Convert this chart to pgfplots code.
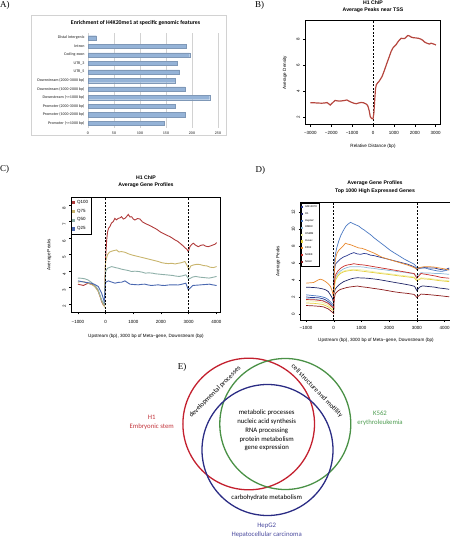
\documentclass[border=0pt]{standalone}
\usepackage{fontspec}
\setmainfont{Liberation Sans}
\newfontfamily\carl{Carlito}
\newfontfamily\lserif{Liberation Serif}
\usepackage{pgfplots}
\pgfplotsset{compat=1.18}
\definecolor{barblue}{HTML}{95B3D7}
\definecolor{bred}{HTML}{B5463E}
\definecolor{cA}{HTML}{B03A3A}
\definecolor{cB}{HTML}{C9B56E}
\definecolor{cC}{HTML}{8FB0A9}
\definecolor{cD}{HTML}{4A68B0}
\definecolor{dGM}{HTML}{2B3990}
\definecolor{dH1}{HTML}{1F2466}
\definecolor{dHep}{HTML}{4A78C2}
\definecolor{dHMEC}{HTML}{8DBAD9}
\definecolor{dHSMM}{HTML}{EEF0A8}
\definecolor{dHuv}{HTML}{E6D040}
\definecolor{dK}{HTML}{E8892E}
\definecolor{dNHEK}{HTML}{C8302C}
\definecolor{dNHLF}{HTML}{8B1A1A}
\definecolor{vred}{HTML}{C3202E}
\definecolor{vgreen}{HTML}{4A9146}
\definecolor{vblue}{HTML}{2B2C84}
\definecolor{tred}{HTML}{C2353C}
\definecolor{tgreen}{HTML}{4F9D52}
\definecolor{tblue}{HTML}{4A4A9E}
\newcommand{\tl}{\fontsize{4.5}{5}\selectfont}
\pgfplotsset{rstyle/.style={scale only axis, anchor=south west,
  axis line style={line width=0.5bp}, tick align=outside,
  xtick pos=left, ytick pos=left, tick style={black, line width=0.4bp},
  major tick length=2bp, tick label style={font=\tl},
  /pgf/number format/assume math mode=true,
  yticklabel style={rotate=90, anchor=south},
  clip=true}}
\begin{document}
\begin{tikzpicture}
\useasboundingbox (0,0) rectangle (450bp,-539bp);
% ---------------- Panel A
\draw[gray!35, line width=0.5bp] (31.5bp,-15bp) rectangle (226bp,-135bp);
\begin{axis}[scale only axis, anchor=south west, at={(88bp,-127.5bp)},
  width=130bp, height=94bp, xbar, bar width=4.2bp,
  xmin=0, xmax=250, ymin=-0.5, ymax=10.5,
  ytick={0,...,10},
  yticklabels={Promoter (<=1000 bp),Promoter (1000-2000 bp),Promoter (2000-3000 bp),Downstream (<=1000 bp),Downstream (1000-2000 bp),Downstream (2000-3000 bp),UTR\_5,UTR\_3,Coding exon,Intron,Distal intergenic},
  xtick={0,50,...,250},
  xmajorgrids, grid style={gray!35, line width=0.4bp},
  axis line style={draw=none}, major tick length=0pt,
  tick label style={font=\carl\bfseries\fontsize{4}{4.5}\selectfont, text=black!65},
  /pgf/number format/assume math mode=true,
  xticklabel style={yshift=-0.5bp}]
\addplot[fill=barblue, draw=barblue!85!black, line width=0.2bp] coordinates {
(146,0) (187,1) (167,2) (234,3) (187,4) (167,5) (176,6) (172,7) (195.5,8) (188,9) (16,10)};
\end{axis}
% ---------------- Panel B
\begin{axis}[rstyle, at={(305.3bp,-124.7bp)}, width=135.4bp, height=104bp,
  xmin=-3240, xmax=3240, ymin=1.43, ymax=9.46,
  xtick={-3000,-2000,...,3000},
  xticklabels={−3000,−2000,−1000,0,1000,2000,3000},
  ytick={2,4,6,8}, xticklabel style={yshift=-0.8bp}]
\addplot[black, line width=0.6bp, dash pattern=on 2bp off 1.5bp] coordinates {(0,1.43) (0,9.46)};
\addplot[bred, line width=1.2bp] coordinates {
(-3000,3.13) (-2800,3.12) (-2600,3.10) (-2450,3.09) (-2300,3.11) (-2200,3.14) (-2100,3.02) (-2050,2.95)
(-1950,3.10) (-1820,3.30) (-1700,3.27) (-1580,3.25) (-1450,3.28) (-1300,3.32) (-1250,3.34) (-1150,3.25)
(-1030,3.16) (-900,3.08) (-800,3.05) (-700,3.10) (-560,3.15) (-450,3.12) (-380,3.07) (-300,3.00)
(-240,2.85) (-180,2.50) (-130,2.05) (-60,1.90) (0,1.88) (40,2.30) (80,3.30) (120,4.20) (160,4.52)
(220,4.65) (290,4.78) (360,4.95) (440,5.17) (540,5.60) (640,6.07) (760,6.60) (870,7.10) (950,7.35)
(1030,7.49) (1110,7.62) (1190,7.82) (1270,7.98) (1350,8.10) (1430,8.09) (1510,8.08) (1590,8.20)
(1670,8.32) (1750,8.28) (1830,8.19) (1950,8.14) (2060,8.13) (2180,8.10) (2300,8.03) (2380,7.95)
(2460,7.82) (2540,7.75) (2620,7.70) (2700,7.66) (2780,7.72) (2860,7.68) (2940,7.64) (3010,7.58)};
\end{axis}
% ---------------- Panel C
\begin{axis}[rstyle, at={(71.3bp,-312.3bp)}, width=149.4bp, height=115bp,
  xmin=-1240, xmax=4160, ymin=1.48, ymax=8.47,
  xtick={-1000,0,...,4000},
  xticklabels={−1000,0,1000,2000,3000,4000},
  ytick={2,...,8}, xticklabel style={yshift=-3bp}, yticklabel style={xshift=-3bp},
  every axis plot/.append style={line width=0.9bp},
  legend style={at={(0,1)}, anchor=north west, font=\tl, inner sep=0.6bp,
    row sep=0.2bp, draw=black, line width=0.5bp, cells={anchor=west}},
  legend image code/.code={\fill[#1] (0.6bp,-1.1bp) rectangle (2.8bp,1.1bp);}]
\addplot[cA] coordinates {
(-1000,3.19) (-900,3.15) (-800,3.11) (-700,3.20) (-620,3.25) (-520,3.18) (-440,3.15) (-350,3.00) (-265,2.75)
(-200,2.45) (-145,2.14) (-80,1.92) (-40,1.88) (0,4.77) (40,5.90) (72,6.38) (110,6.60) (157,6.69) (210,6.90)
(277,6.99) (337,7.19) (390,7.10) (458,7.19) (520,7.22) (578,7.29) (640,7.15) (699,7.19) (760,7.30) (819,7.43)
(880,7.28) (940,7.29) (1000,7.15) (1060,7.09) (1150,7.18) (1241,7.15) (1330,6.98) (1422,6.89) (1510,6.82)
(1602,6.75) (1700,6.66) (1783,6.59) (1870,6.50) (1964,6.38) (2050,6.30) (2145,6.22) (2230,6.15) (2325,6.08)
(2420,5.98) (2506,5.88) (2600,5.80) (2687,5.68) (2780,5.55) (2867,5.41) (2940,5.30) (2990,5.17) (3048,5.47)
(3110,5.60) (3169,5.68) (3260,5.55) (3349,5.47) (3440,5.55) (3530,5.58) (3620,5.50) (3711,5.47) (3800,5.52)
(3892,5.58) (3960,5.62) (4012,5.72)};
\addlegendentry{Q100}
\addplot[cB] coordinates {
(-1000,3.31) (-880,3.35) (-760,3.33) (-640,3.25) (-520,3.19) (-400,3.05) (-265,2.75) (-145,2.18) (-50,1.84)
(0,4.57) (72,5.00) (150,5.15) (250,5.21) (398,5.27) (480,5.15) (578,5.17) (700,5.13) (800,5.05) (940,4.97)
(1060,4.92) (1180,4.87) (1300,4.82) (1420,4.77) (1540,4.72) (1663,4.67) (1780,4.62) (1900,4.57) (2020,4.50)
(2145,4.46) (2270,4.44) (2390,4.46) (2510,4.42) (2627,4.46) (2750,4.50) (2867,4.57) (2964,4.26) (3012,4.06)
(3080,4.30) (3180,4.36) (3300,4.40) (3420,4.38) (3540,4.32) (3660,4.30) (3780,4.22) (3900,4.20) (4012,4.26)};
\addlegendentry{Q75}
\addplot[cC] coordinates {
(-1000,3.56) (-880,3.55) (-760,3.52) (-640,3.45) (-520,3.31) (-380,3.10) (-265,2.85) (-145,2.24) (-50,1.94)
(0,3.96) (72,4.16) (220,4.26) (350,4.20) (460,4.16) (580,4.10) (700,4.06) (820,4.02) (940,3.96) (1060,3.98)
(1200,3.96) (1320,3.92) (1440,3.86) (1560,3.88) (1690,3.86) (1810,3.82) (1930,3.80) (2050,3.78) (2180,3.76)
(2300,3.74) (2420,3.72) (2540,3.68) (2660,3.66) (2790,3.70) (2900,3.76) (2980,3.56) (3030,3.52) (3140,3.62)
(3260,3.66) (3380,3.62) (3500,3.60) (3620,3.58) (3740,3.56) (3860,3.60) (4012,3.66)};
\addlegendentry{Q50}
\addplot[cD] coordinates {
(-1000,3.39) (-880,3.35) (-760,3.31) (-640,3.28) (-520,3.25) (-400,3.18) (-265,3.05) (-145,2.65) (-50,2.14)
(0,3.31) (100,3.39) (200,3.33) (340,3.25) (460,3.30) (580,3.31) (700,3.39) (880,3.19) (1000,3.17) (1180,3.15)
(1300,3.18) (1420,3.19) (1540,3.14) (1660,3.11) (1780,3.13) (1900,3.15) (2020,3.12) (2140,3.11) (2260,3.14)
(2380,3.15) (2500,3.15) (2620,3.14) (2740,3.18) (2900,3.25) (2990,2.85) (3150,3.11) (3300,3.13) (3450,3.15)
(3600,3.17) (3750,3.19) (3900,3.14) (4012,3.11)};
\addlegendentry{Q25}
\addplot[black, line width=0.6bp, dash pattern=on 2bp off 1.5bp, forget plot] coordinates {(0,1.48) (0,8.47)};
\addplot[black, line width=0.6bp, dash pattern=on 2bp off 1.5bp, forget plot] coordinates {(3000,1.48) (3000,8.47)};
\end{axis}
% ---------------- Panel D
\begin{axis}[rstyle, at={(300.5bp,-320bp)}, width=155.1bp, height=117.3bp,
  xmin=-1200, xmax=4400, ymin=-0.65, ymax=13.1,
  xtick={-1000,0,...,4000},
  xticklabels={−1000,0,1000,2000,3000,4000},
  ytick={0,2,...,12}, xticklabel style={yshift=-0.5bp},
  every axis plot/.append style={line width=0.7bp},
  legend style={at={(0,1)}, anchor=north west, font=\fontsize{2.7}{3}\selectfont, inner sep=0.5bp,
    row sep=-0.5bp, draw=black, line width=0.5bp, cells={anchor=west}},
  legend image code/.code={\fill[#1] (0.6bp,-0.6bp) rectangle (1.8bp,0.6bp);}]
\addplot[dGM] coordinates {
(-1000,2.05) (-850,2.0) (-700,1.98) (-550,1.95) (-400,1.85) (-300,1.72) (-200,1.5) (-120,1.25) (-50,1.0) (-10,0.95)
(0,4.5) (60,5.9) (150,6.2) (240,6.5) (360,6.75) (480,6.9) (600,7.1) (726,7.25) (850,7.1) (970,7.05) (1090,7.15)
(1209,7.1) (1330,6.95) (1450,6.9) (1570,6.8) (1693,6.7) (1810,6.6) (1935,6.5) (2050,6.4) (2177,6.3) (2300,6.2)
(2420,6.1) (2540,6.0) (2660,5.9) (2780,5.75) (2900,5.6) (2970,5.4) (3000,5.25) (3080,5.4) (3270,5.5) (3450,5.45)
(3630,5.45) (3810,5.3) (3990,5.2) (4170,5.45)};
\addlegendentry{GM12878}
\addplot[dH1] coordinates {
(-1000,3.2) (-850,3.18) (-700,3.15) (-550,3.1) (-400,3.0) (-300,2.9) (-200,2.7) (-120,2.3) (-50,1.9) (-10,1.45)
(0,2.4) (60,3.0) (150,3.35) (240,3.6) (360,3.85) (480,4.0) (600,4.15) (720,4.25) (850,4.3) (1000,4.28) (1200,4.25)
(1400,4.18) (1600,4.1) (1780,4.0) (1950,3.9) (2120,3.8) (2300,3.7) (2480,3.6) (2650,3.5) (2800,3.4) (2920,3.3)
(3000,2.8) (3100,3.2) (3200,3.35) (3350,3.3) (3500,3.25) (3650,3.2) (3800,3.1) (3950,3.05) (4170,2.95)};
\addlegendentry{H1}
\addplot[dHep] coordinates {
(-1000,2.3) (-850,2.25) (-700,2.2) (-550,2.15) (-400,2.05) (-300,1.95) (-200,1.75) (-120,1.5) (-50,1.25) (-10,1.15)
(0,5.3) (30,6.5) (100,7.7) (180,8.6) (260,9.3) (340,9.8) (430,10.3) (520,10.6) (605,10.8) (700,10.65) (800,10.5)
(907,10.35) (1000,10.1) (1100,9.9) (1220,9.6) (1330,9.35) (1450,9.0) (1570,8.7) (1690,8.4) (1814,8.1) (1930,7.8)
(2050,7.5) (2170,7.25) (2297,7.0) (2420,6.75) (2540,6.5) (2660,6.3) (2781,6.1) (2900,5.9) (2960,5.7) (3000,5.35)
(3050,5.5) (3150,5.45) (3300,5.45) (3450,5.3) (3600,5.2) (3750,5.1) (3900,5.05) (4050,5.15) (4170,5.3)};
\addlegendentry{HepG2}
\addplot[dHMEC] coordinates {
(-1000,1.85) (-700,1.8) (-400,1.65) (-200,1.35) (-80,1.0) (-10,0.8) (0,3.0) (60,4.3) (150,4.8) (242,5.1) (360,5.35)
(484,5.5) (600,5.6) (725,5.6) (900,5.6) (1088,5.55) (1270,5.45) (1451,5.4) (1630,5.3) (1814,5.25) (2000,5.15)
(2177,5.1) (2360,5.0) (2539,4.95) (2720,4.85) (2902,4.75) (3000,4.45) (3150,4.9) (3330,4.85) (3507,4.85)
(3680,4.8) (3850,4.8) (4170,4.7)};
\addlegendentry{HMEC}
\addplot[dHSMM] coordinates {
(-1000,1.6) (-700,1.55) (-400,1.4) (-200,1.1) (-80,0.75) (-10,0.6) (0,2.8) (60,4.1) (150,4.6) (242,4.9) (360,5.1)
(484,5.2) (600,5.25) (725,5.3) (900,5.25) (1088,5.2) (1270,5.1) (1451,5.0) (1630,4.92) (1814,4.85) (2000,4.78)
(2177,4.7) (2360,4.62) (2539,4.55) (2720,4.48) (2902,4.4) (3000,4.05) (3150,4.3) (3330,4.25) (3507,4.2)
(3680,4.12) (3850,4.05) (4170,3.95)};
\addlegendentry{HSMM}
\addplot[dHuv] coordinates {
(-1000,1.35) (-700,1.3) (-400,1.18) (-200,0.9) (-80,0.6) (-10,0.45) (0,2.6) (60,4.0) (150,4.5) (242,4.8) (360,5.0)
(484,5.1) (600,5.15) (725,5.2) (900,5.12) (1088,5.05) (1270,4.97) (1451,4.9) (1630,4.82) (1814,4.75) (2000,4.68)
(2177,4.6) (2360,4.52) (2539,4.45) (2720,4.38) (2902,4.3) (3000,3.95) (3150,4.2) (3330,4.15) (3507,4.1)
(3680,4.02) (3850,3.95) (4170,3.85)};
\addlegendentry{Huvec}
\addplot[dK] coordinates {
(-1000,3.67) (-900,3.7) (-800,3.72) (-725,3.75) (-640,3.9) (-560,4.05) (-484,4.13) (-400,4.05) (-300,3.86)
(-200,3.6) (-120,3.3) (-60,2.8) (-25,2.3) (0,1.93) (20,5.0) (60,6.5) (120,7.2) (180,7.5) (270,7.8) (360,8.1)
(420,8.35) (500,8.25) (580,8.2) (665,8.1) (780,7.95) (900,7.8) (1020,7.75) (1150,7.6) (1300,7.4) (1450,7.2)
(1600,6.95) (1753,6.7) (1900,6.55) (2050,6.4) (2200,6.25) (2358,6.1) (2500,5.95) (2660,5.8) (2780,5.65)
(2900,5.5) (3000,5.3) (3100,5.5) (3270,5.6) (3450,5.6) (3630,5.55) (3810,5.45) (3990,5.35) (4170,5.2)};
\addlegendentry{K562}
\addplot[dNHEK] coordinates {
(-1000,1.75) (-700,1.72) (-400,1.6) (-200,1.3) (-80,0.95) (-10,0.75) (0,3.2) (60,4.6) (150,5.1) (242,5.4) (360,5.65)
(484,5.8) (600,5.85) (725,5.95) (900,5.85) (1088,5.8) (1270,5.7) (1451,5.6) (1630,5.5) (1814,5.4) (2000,5.3)
(2177,5.2) (2360,5.1) (2539,5.0) (2720,4.9) (2902,4.8) (3000,4.25) (3150,4.8) (3330,4.7) (3507,4.6) (3680,4.5)
(3850,4.36) (4000,4.3) (4170,4.25)};
\addlegendentry{NHEK}
\addplot[dNHLF] coordinates {
(-1000,1.05) (-700,1.0) (-500,0.95) (-363,0.88) (-200,0.65) (-100,0.4) (-30,0.2) (0,0.1) (20,1.9) (60,2.46)
(150,2.75) (242,2.94) (360,3.05) (484,3.17) (650,3.25) (846,3.33) (1000,3.25) (1209,3.17) (1450,3.05) (1693,2.94)
(1935,2.8) (2177,2.66) (2420,2.55) (2660,2.47) (2902,2.35) (3000,2.0) (3150,2.39) (3400,2.33) (3600,2.27)
(3900,2.17) (4170,2.07)};
\addlegendentry{NHLF}
\addplot[black, line width=0.6bp, dash pattern=on 2bp off 1.5bp, forget plot] coordinates {(0,-0.65) (0,13.1)};
\addplot[black, line width=0.6bp, dash pattern=on 2bp off 1.5bp, forget plot] coordinates {(3000,-0.65) (3000,13.1)};
\end{axis}
% ---------------- Text and Venn
\begin{scope}[x=1bp,y=-1bp]
\node[anchor=west, font=\lserif\fontsize{9}{10}\selectfont, inner sep=0] at (0,5.5) {A)};
\node[anchor=west, font=\lserif\fontsize{9}{10}\selectfont, inner sep=0] at (255,5.5) {B)};
\node[anchor=west, font=\lserif\fontsize{9}{10}\selectfont, inner sep=0] at (0,169.5) {C)};
\node[anchor=west, font=\lserif\fontsize{9}{10}\selectfont, inner sep=0] at (255.5,170) {D)};
\node[anchor=west, font=\lserif\fontsize{9}{10}\selectfont, inner sep=0] at (177.7,367.5) {E)};
\node[font=\carl\bfseries\fontsize{5.8}{6}\selectfont, inner sep=0] at (135.5,23) {Enrichment of H4K20me1 at specific genomic features};
% B
\node[font=\bfseries\fontsize{5.2}{6}\selectfont, inner sep=0] at (373,2.9) {H1 ChIP};
\node[font=\bfseries\fontsize{5.2}{6}\selectfont, inner sep=0] at (373,10.3) {Average Peaks near TSS};
\node[font=\fontsize{4.6}{5}\selectfont, inner sep=0, rotate=90] at (285,72.7) {Average Density};
\node[font=\fontsize{4.6}{5}\selectfont, inner sep=0] at (373,146) {Relative Distance (bp)};
% C
\node[font=\bfseries\fontsize{5.2}{6}\selectfont, inner sep=0] at (146,178) {H1 ChIP};
\node[font=\bfseries\fontsize{5.2}{6}\selectfont, inner sep=0] at (146,185.5) {Average Gene Profiles};
\node[font=\fontsize{4.6}{5}\selectfont, inner sep=0, rotate=90] at (49.3,254.8) {Average Peaks};
\node[font=\fontsize{4.6}{5}\selectfont, inner sep=0] at (146,336.7) {Upstream (bp), 3000 bp of Meta−gene, Downstream (bp)};
% D
\node[font=\bfseries\fontsize{5.2}{6}\selectfont, inner sep=0] at (375,183.3) {Average Gene Profiles};
\node[font=\bfseries\fontsize{5.2}{6}\selectfont, inner sep=0] at (375,190.7) {Top 1000 High Expressed Genes};
\node[font=\fontsize{4.6}{5}\selectfont, inner sep=0, rotate=90] at (278.3,261.3) {Average Peaks};
\node[font=\fontsize{4.6}{5}\selectfont, inner sep=0] at (376,340) {Upstream (bp), 3000 bp of Meta−gene, Downstream (bp)};
% Venn
\draw[vred, line width=1.3bp] (248.7,424) circle (65.8bp);
\draw[vgreen, line width=1.3bp] (285.3,424) circle (65.5bp);
\draw[vblue, line width=1.3bp] (267.5,450) circle (65.5bp);
\node[font=\carl\fontsize{6.8}{8.8}\selectfont, align=center, inner sep=0] at (266.7,430.5)
  {metabolic processes\\nucleic acid synthesis\\RNA processing\\protein metabolism\\gene expression};
\node[font=\carl\fontsize{6.8}{8}\selectfont, inner sep=0] at (266.7,497.3) {carbohydrate metabolism};
\node[font=\carl\fontsize{6.8}{9.3}\selectfont, align=center, inner sep=0, text=tred] at (151.7,422) {H1\\Embryonic stem};
\node[font=\carl\fontsize{6.8}{9.3}\selectfont, align=center, inner sep=0, text=tgreen] at (380,418) {K562\\erythroleukemia};
\node[font=\carl\fontsize{6.8}{9.3}\selectfont, align=center, inner sep=0, text=tblue] at (266.7,530.5) {HepG2\\Hepatocellular carcinoma};
\node[font=\carl\fontsize{6.8}{8}\selectfont, inner sep=0, rotate=45] at (215,392) {developmental processes};
\node[font=\carl\fontsize{6.8}{8}\selectfont, inner sep=0, rotate=-46] at (317,391) {cell structure and motility};
\end{scope}
\end{tikzpicture}
\end{document}
